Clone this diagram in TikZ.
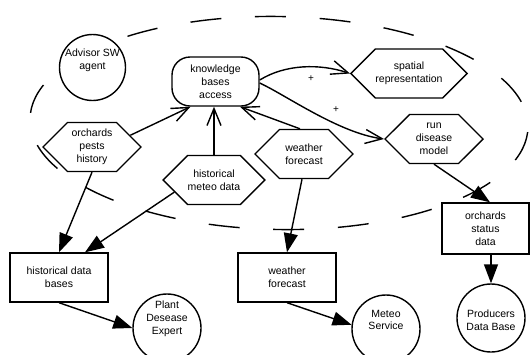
\documentclass[tikz,border=0pt]{standalone}
\usepackage{fontspec}
\setmainfont{Liberation Sans}
\usetikzlibrary{arrows.meta,shapes.symbols}
\begin{document}
\begin{tikzpicture}[x=1pt,y=-1pt,
  every node/.style={font=\fontsize{10.5}{12.8}\selectfont, align=center, inner sep=0pt},
  base/.style={line width=1.4pt},
  hexa/.style={base, draw, fill=white, signal, signal to=east and west,
    signal pointer angle=90, minimum width=98pt, minimum height=49pt},
  boxed/.style={base, draw, fill=white, rectangle, minimum width=98pt, minimum height=49pt},
  disc/.style={base, draw, fill=white, circle, minimum size=68pt},
  roundbox/.style={base, draw, fill=white, rounded corners=18pt,
    minimum width=87pt, minimum height=49pt},
  feed/.style={base, -{Straight Barb[length=17pt,width=14pt]}},
  flow/.style={base, -{Triangle[length=19pt,width=14pt]}},
  plus/.style={font=\fontsize{10}{12}\selectfont},
]
\useasboundingbox (0,0) rectangle (530,354);

% system boundary of the advisor agent
\draw[base, dash pattern=on 31pt off 33.7pt, dash phase=60pt,
  rotate around={-1:(279,123)}] (279,123) ellipse [x radius=249, y radius=106.5];

% agent and its internal activities
\node[disc, minimum size=66pt] (adv) at (92.5,67.5) {};
\node (advtext) at ([yshift=7.5]adv.center) {Advisor SW\\agent};
\node[roundbox] (know) at (215.5,81.5) {knowledge\\bases\\access};
\node[hexa] (pests) at (92,147) {orchards\\pests\\history};
\node[hexa] (hmeteo) at (214,180) {historical\\meteo data};
\node[hexa] (wfhex) at (304,154) {weather\\forecast};
\node[hexa] (spatial) at (409,73.5) {spatial\\representation};
\node[hexa] (rundm) at (434,139) {run\\disease\\model};

% data stores
\node[boxed] (hdb) at (59,277.5) {historical data\\bases};
\node[boxed] (wfbox) at (287,277.5) {weather\\forecast};
\node[boxed, minimum width=87pt, minimum height=51pt] (osd) at (485.5,228.5) {orchards\\status\\data};

% external actors
\node[disc] (plant) at (167,328) {};
\node (planttext) at ([yshift=9]plant.center) {Plant\\Desease\\Expert};
\node[disc] (meteo) at (386,329) {};
\node (meteotext) at ([yshift=9]meteo.center) {Meteo\\Service};
\node[disc] (prod) at (491,318) {};
\node (prodtext) at ([yshift=-2]prod.center) {Producers\\Data Base};

% requests into the knowledge base access
\draw[feed] (pests.17) -- ([xshift=-25]know.south);
\draw[feed] (hmeteo.north) -- (hmeteo.north |- know.south);
\draw[feed] ([xshift=-4]wfhex.north) -- ([xshift=24.5]know.south);
\draw[feed] ([yshift=1.5]know.east) .. controls +(26,-16) and +(-30,-10) .. (spatial.west);
\draw[feed] ([yshift=-1.5]know.east) .. controls +(26,12) and +(-45,-6) .. (rundm.west);
\node[plus] (plusA) at (311,79) {+};
\node[plus] (plusB) at (336,110) {+};

% data flows
\draw[flow] (pests.south) -- (hdb.north);
\draw[flow] (hmeteo.197) -- ([xshift=26]hdb.north);
\draw[flow] ([xshift=-2]wfhex.south) -- (wfbox.north);
\draw[flow] (rundm.south) -- ([xshift=4.5]osd.north);
\draw[flow] ([xshift=5.5]osd.south) -- (prod.north);
\draw[flow] (hdb.south) -- (plant.west);
\draw[flow] (wfbox.south) -- (meteo.173);
\end{tikzpicture}
\end{document}
